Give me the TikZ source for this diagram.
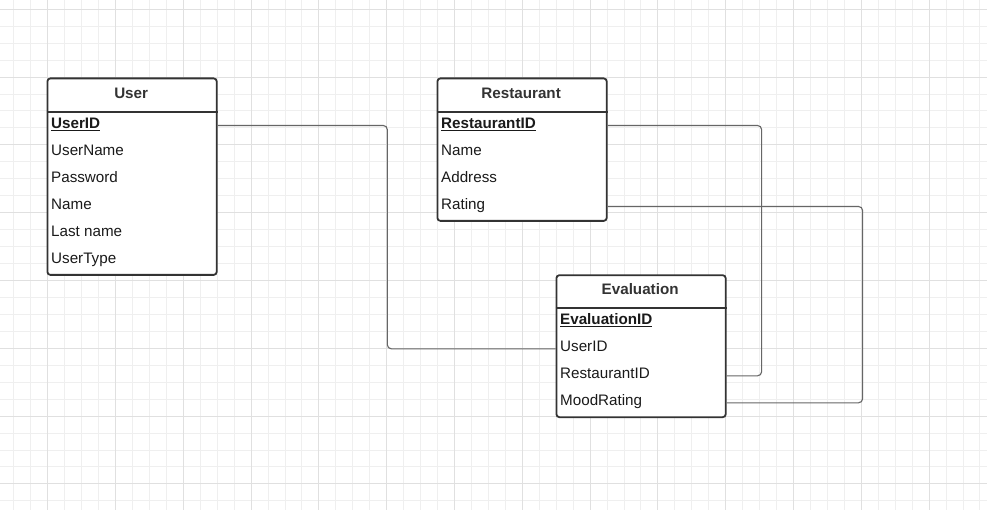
\documentclass[tikz,border=0pt]{standalone}
\usepackage{fontspec}
\setmainfont{Liberation Sans}
\usepackage{xcolor}
\usetikzlibrary{calc}

\definecolor{boxline}{HTML}{333333}
\definecolor{linkgray}{HTML}{666666}
\definecolor{titlegray}{HTML}{333333}
\definecolor{fieldtext}{HTML}{1A1A1A}
\definecolor{minorgray}{HTML}{EFEFEF}
\definecolor{majorgray}{HTML}{E0E0E0}

\tikzset{
    minorgrid/.style={draw=minorgray, line width=1pt},
    majorgrid/.style={draw=majorgray, line width=1pt},
    tablebox/.style={draw=boxline, line width=1.8pt, fill=white, rounded corners=3pt,
        anchor=north west, minimum width=169.3pt, inner sep=0pt},
    title/.style={anchor=base, text=titlegray, font=\fontsize{15.2}{18}\selectfont\bfseries},
    field/.style={anchor=west, inner sep=0pt, text height=10.5pt, text depth=4.5pt,
        text=fieldtext, font=\fontsize{15.2}{18}\selectfont},
    keyfield/.style={field, font=\fontsize{15.2}{18}\selectfont\bfseries},
    link/.style={draw=linkgray, line width=1.1pt, rounded corners=4pt}
}

\begin{document}
\begin{tikzpicture}[x=1pt,y=-1pt]
    \useasboundingbox (0,0) rectangle (987,510);
    \fill[white] (0,0) rectangle (987,510);

    % background grid
    \foreach \i in {0,...,57}
        \draw[minorgrid] ({13.8+16.95*\i},0) -- ({13.8+16.95*\i},510);
    \foreach \j in {0,...,29}
        \draw[minorgrid] (0,{9.3+16.95*\j}) -- (987,{9.3+16.95*\j});
    \foreach \i in {0,...,13}
        \draw[majorgrid] ({47.7+67.8*\i},0) -- ({47.7+67.8*\i},510);
    \foreach \j in {0,...,7}
        \draw[majorgrid] (0,{9.3+67.8*\j}) -- (987,{9.3+67.8*\j});

    % User
    \node[tablebox, minimum height=196.5pt] (user) at (46.5,77.5) {};
    \draw[boxline, line width=1.8pt] (user.west |- 0,112) -- (user.east |- 0,112);
    \node[title] (usertitle) at (131.15,98.7) {User};
    \node[keyfield] (userid) at (51,125.5) {\underline{UserID}};
    \node[field] (username) at (51,152.5) {UserName};
    \node[field] (password) at (51,179.5) {Password};
    \node[field] (name) at (51,206.5) {Name};
    \node[field] (lastname) at (51,233.5) {Last name};
    \node[field] (usertype) at (51,260.5) {UserType};

    % Restaurant
    \node[tablebox, minimum height=142.5pt] (restaurant) at (436.5,77.5) {};
    \draw[boxline, line width=1.8pt] (restaurant.west |- 0,112) -- (restaurant.east |- 0,112);
    \node[title] (resttitle) at (521.15,98.7) {Restaurant};
    \node[keyfield] (restid) at (441,125.5) {\underline{RestaurantID}};
    \node[field] (restname) at (441,152.5) {Name};
    \node[field] (address) at (441,179.5) {Address};
    \node[field] (rating) at (441,206.5) {Rating};

    % Evaluation
    \node[tablebox, minimum height=142pt] (eval) at (555.5,274.3) {};
    \draw[boxline, line width=1.8pt] (eval.west |- 0,308.3) -- (eval.east |- 0,308.3);
    \node[title] (evaltitle) at (640.15,294.9) {Evaluation};
    \node[keyfield] (evalid) at (560,321.8) {\underline{EvaluationID}};
    \node[field] (evuserid) at (560,348.8) {UserID};
    \node[field] (evrestid) at (560,375.8) {RestaurantID};
    \node[field] (moodrating) at (560,402.8) {MoodRating};

    % relations
    \draw[link] (user.east |- userid) -- ++(169.7,0) |- (eval.west |- evuserid);
    \draw[link] (restaurant.east |- restid) -- ++(154,0) |- (eval.east |- evrestid);
    \draw[link] (restaurant.east |- rating) -- ++(255,0) |- (eval.east |- moodrating);
\end{tikzpicture}
\end{document}
